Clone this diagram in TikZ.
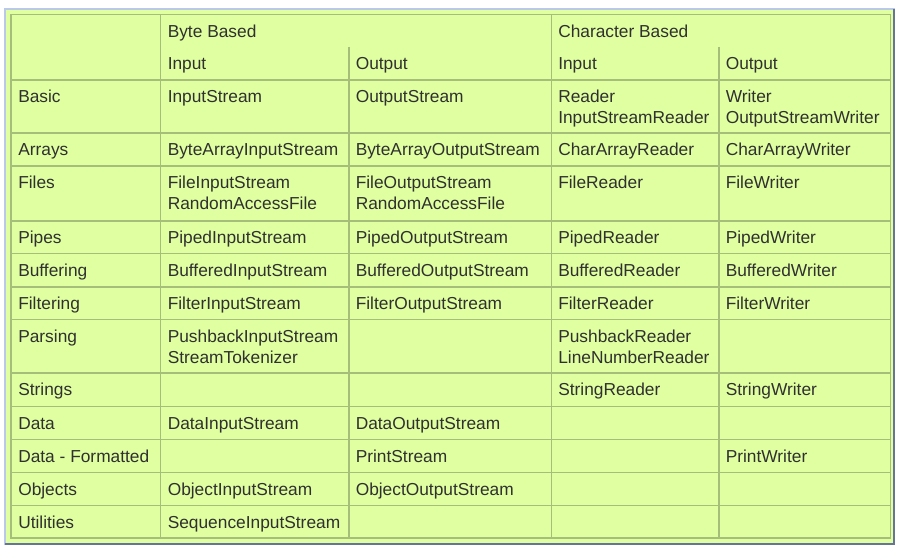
\documentclass[tikz,border=0pt]{standalone}
\usepackage{fontspec}
\setmainfont{Liberation Sans}
\usepackage{xcolor}
\usetikzlibrary{positioning}
\definecolor{cellbg}{RGB}{223,255,160}
\definecolor{gridln}{RGB}{165,190,122}
\definecolor{panellt}{RGB}{186,200,234}
\definecolor{paneldk}{RGB}{102,116,150}
\definecolor{txt}{RGB}{48,48,48}

\begin{document}
\begin{tikzpicture}[
	  x=0.75pt, y=-0.75pt,
	  %style for grid lines
	  grd/.style={draw=gridln, line width=0.9pt},
	  %style for cell texts (multi-line cells sit on their last line)
	  cl/.style={anchor=base west, inner sep=0pt, align=left, text=txt,
	             font=\fontsize{13}{15.75}\selectfont}]

      \useasboundingbox (0,0) rectangle (901,549);
      %panel
      \fill[cellbg] (5,9) rectangle (895,545);
      \draw[panellt, line width=1.4pt] (5,545) -- (5,9) -- (895,9);
      \draw[paneldk, line width=1.8pt] (5,544) -- (894,544) -- (894,9);

      %grid
      \draw[grd, line width=1.3pt] (11,14.5) rectangle (890.5,538);
      \draw[grd] (160.7,14.5) -- (160.7,538);
      \draw[grd] (551.5,14.5) -- (551.5,538);
      \draw[grd] (349,47) -- (349,538);
      \draw[grd] (719,47) -- (719,538);
      \draw[grd] (11,80) -- (890.5,80);
      \draw[grd] (11,133) -- (890.5,133);
      \draw[grd] (11,166) -- (890.5,166);
      \draw[grd] (11,221) -- (890.5,221);
      \draw[grd] (11,253.5) -- (890.5,253.5);
      \draw[grd] (11,287) -- (890.5,287);
      \draw[grd] (11,319.5) -- (890.5,319.5);
      \draw[grd] (11,373) -- (890.5,373);
      \draw[grd] (11,406.5) -- (890.5,406.5);
      \draw[grd] (11,439.5) -- (890.5,439.5);
      \draw[grd] (11,472.5) -- (890.5,472.5);
      \draw[grd] (11,505.5) -- (890.5,505.5);

      %header
      \node[cl](bytehd) at (167.5,37.2){Byte Based};
      \node[cl](charhd) at (558,37.2){Character Based};
      \node[cl](bytein) at (167.5,69.7){Input};
      \node[cl](byteout) at (355.5,69.7){Output};
      \node[cl](charin) at (558,69.7){Input};
      \node[cl](charout) at (725.5,69.7){Output};

      %rows
      \node[cl](basic) at (18,102.7){Basic};
      \node[cl](basicbi) at (167.5,102.7){InputStream};
      \node[cl](basicbo) at (355.5,102.7){OutputStream};
      \node[cl](basicci) at (558,123.7){Reader\\InputStreamReader};
      \node[cl](basicco) at (725.5,123.7){Writer\\OutputStreamWriter};

      \node[cl](arrays) at (18,155.7){Arrays};
      \node[cl](arraysbi) at (167.5,155.7){ByteArrayInputStream};
      \node[cl](arraysbo) at (355.5,155.7){ByteArrayOutputStream};
      \node[cl](arraysci) at (558,155.7){CharArrayReader};
      \node[cl](arraysco) at (725.5,155.7){CharArrayWriter};

      \node[cl](files) at (18,188.7){Files};
      \node[cl](filesbi) at (167.5,209.7){FileInputStream\\RandomAccessFile};
      \node[cl](filesbo) at (355.5,209.7){FileOutputStream\\RandomAccessFile};
      \node[cl](filesci) at (558,188.7){FileReader};
      \node[cl](filesco) at (725.5,188.7){FileWriter};

      \node[cl](pipes) at (18,243.7){Pipes};
      \node[cl](pipesbi) at (167.5,243.7){PipedInputStream};
      \node[cl](pipesbo) at (355.5,243.7){PipedOutputStream};
      \node[cl](pipesci) at (558,243.7){PipedReader};
      \node[cl](pipesco) at (725.5,243.7){PipedWriter};

      \node[cl](buffer) at (18,276.2){Buffering};
      \node[cl](bufferbi) at (167.5,276.2){BufferedInputStream};
      \node[cl](bufferbo) at (355.5,276.2){BufferedOutputStream};
      \node[cl](bufferci) at (558,276.2){BufferedReader};
      \node[cl](bufferco) at (725.5,276.2){BufferedWriter};

      \node[cl](filter) at (18,309.7){Filtering};
      \node[cl](filterbi) at (167.5,309.7){FilterInputStream};
      \node[cl](filterbo) at (355.5,309.7){FilterOutputStream};
      \node[cl](filterci) at (558,309.7){FilterReader};
      \node[cl](filterco) at (725.5,309.7){FilterWriter};

      \node[cl](parse) at (18,342.2){Parsing};
      \node[cl](parsebi) at (167.5,363.2){PushbackInputStream\\StreamTokenizer};
      \node[cl](parseci) at (558,363.2){PushbackReader\\LineNumberReader};

      \node[cl](strings) at (18,395.7){Strings};
      \node[cl](stringsci) at (558,395.7){StringReader};
      \node[cl](stringsco) at (725.5,395.7){StringWriter};

      \node[cl](data) at (18,429.2){Data};
      \node[cl](databi) at (167.5,429.2){DataInputStream};
      \node[cl](databo) at (355.5,429.2){DataOutputStream};

      \node[cl](format) at (18,462.2){Data - Formatted};
      \node[cl](formatbo) at (355.5,462.2){PrintStream};
      \node[cl](formatco) at (725.5,462.2){PrintWriter};

      \node[cl](objects) at (18,495.2){Objects};
      \node[cl](objectsbi) at (167.5,495.2){ObjectInputStream};
      \node[cl](objectsbo) at (355.5,495.2){ObjectOutputStream};

      \node[cl](utils) at (18,528.2){Utilities};
      \node[cl](utilsbi) at (167.5,528.2){SequenceInputStream};
\end{tikzpicture}
\end{document}
